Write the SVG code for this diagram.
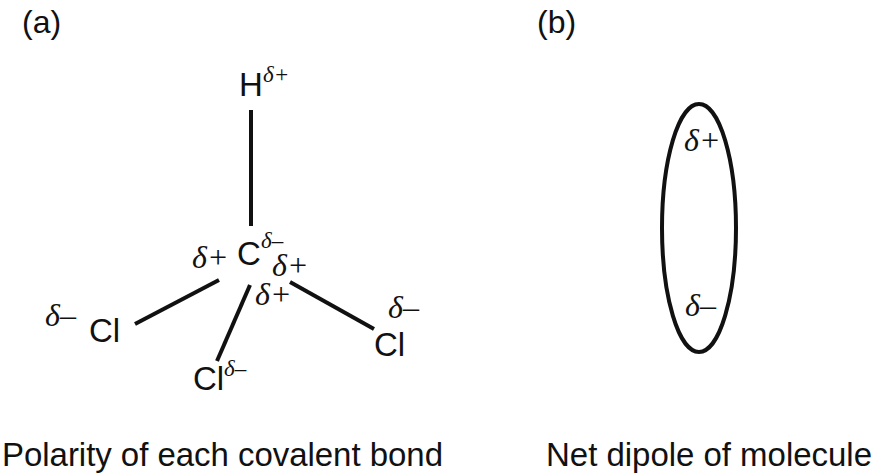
<svg xmlns="http://www.w3.org/2000/svg" width="879" height="475" viewBox="0 0 879 475">
<style>
.s{font-family:"Liberation Sans",Arial,sans-serif;fill:#111}
.d{font-family:"Liberation Serif","Times New Roman",serif;font-style:italic;fill:#111}
.b{stroke:#111;stroke-width:4;fill:none}
</style>
<rect width="879" height="475" fill="#fff"/>
<text class="s" x="22" y="33" font-size="32">(a)</text>
<text class="s" x="537" y="33" font-size="32">(b)</text>
<g id="connectors">
<line class="b" x1="251" y1="110" x2="251" y2="226"/>
<line class="b" x1="219" y1="280" x2="135" y2="324"/>
<line class="b" x1="250" y1="285" x2="217" y2="361"/>
<line class="b" x1="290" y1="282" x2="374" y2="329"/>
</g>
<g id="H"><text class="s" x="239" y="96" font-size="33">H</text><text class="d" x="263" y="82" font-size="23">δ+</text></g>
<g id="C"><text class="s" x="237" y="265" font-size="33">C</text><text class="d" x="261" y="248" font-size="23">δ–</text></g>
<text class="d" x="192" y="268" font-size="32">δ+</text>
<text class="d" x="272" y="276" font-size="32">δ+</text>
<text class="d" x="255" y="305" font-size="32">δ+</text>
<g id="Cl1"><text class="d" x="45" y="326" font-size="32">δ–</text><text class="s" x="89" y="342" font-size="33">Cl</text></g>
<g id="Cl2"><text class="s" x="193" y="390" font-size="33">Cl</text><text class="d" x="224" y="376" font-size="23">δ–</text></g>
<g id="Cl3"><text class="d" x="388" y="318" font-size="32">δ–</text><text class="s" x="374" y="356" font-size="33">Cl</text></g>
<g id="molecule"><ellipse class="b" cx="699" cy="228" rx="37" ry="124"/>
<text class="d" x="684" y="151" font-size="32">δ+</text>
<text class="d" x="685" y="316" font-size="32">δ–</text></g>
<text class="s" x="2" y="466" font-size="33" textLength="441">Polarity of each covalent bond</text>
<text class="s" x="546" y="466" font-size="33" textLength="326">Net dipole of molecule</text>
</svg>
